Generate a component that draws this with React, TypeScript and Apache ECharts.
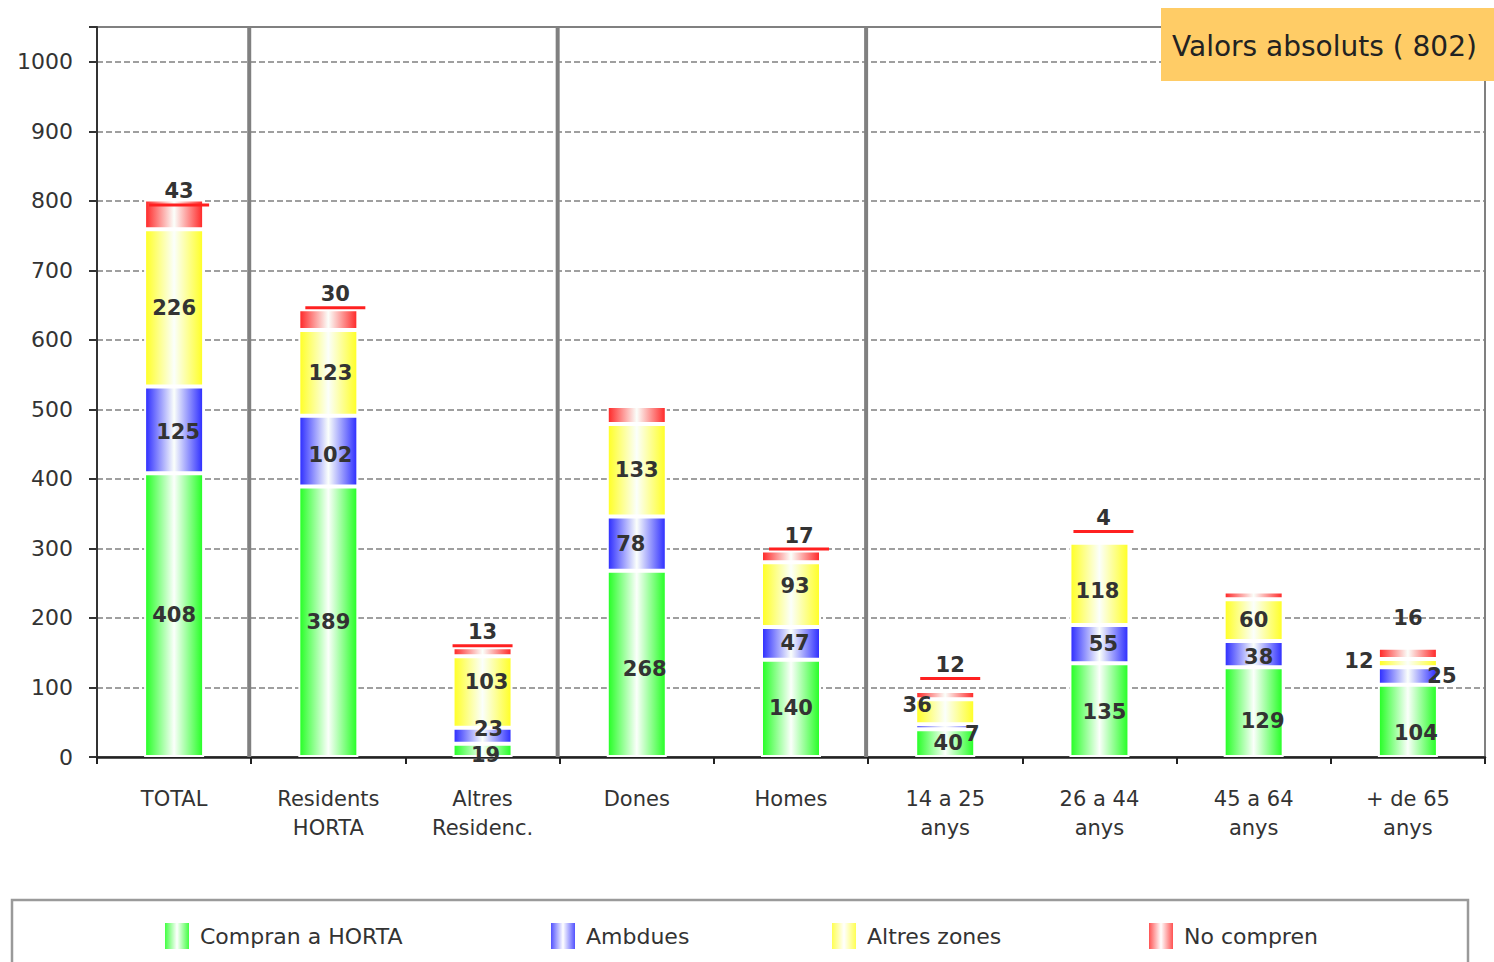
import React, { useEffect, useRef } from "react";
import * as echarts from "echarts";

const categories = [
  "TOTAL",
  "Residents\nHORTA",
  "Altres\nResidenc.",
  "Dones",
  "Homes",
  "14 a 25\nanys",
  "26 a 44\nanys",
  "45 a 64\nanys",
  "+ de 65\nanys",
];
const seriesNames = ["Compran a HORTA", "Ambdues", "Altres zones", "No compren"];
const compranHorta = [408, 389, 19, 268, 140, 40, 135, 129, 104];
const ambdues = [125, 102, 23, 78, 47, 7, 55, 38, 25];
const altresZones = [226, 123, 103, 133, 93, 36, 118, 60, 12];
const noCompren = [43, 30, 13, 26, 17, 12, 4, 11, 16];
// labels not visible in the reference
const hiddenNoComprenLabels = [3, 7];
const noUnderlineLabels = [8];
const totalSample = 802;
const yMin = 0;
const yMax = 1050;
const yInterval = 100;

// label nudges (style only)
const labelOffsets: Record<number, Record<number, [number, number]>> = {
  0: { 2: [3, 5], 3: [8, 5], 5: [3, 0], 6: [5, 2], 7: [9, 9], 8: [8, 12] },
  1: { 0: [4, 2], 1: [2, 4], 2: [6, -7], 3: [-6, 0], 4: [4, 0], 5: [27, 7], 6: [4, 0], 7: [5, 3], 8: [34, 0] },
  2: { 1: [2, 0], 2: [4, -10], 4: [4, -9], 5: [-28, -7], 6: [-2, 7], 8: [-49, -2] },
  3: { 0: [5, 7], 1: [7, 0], 4: [8, 0], 5: [5, -11], 6: [4, -7], 8: [0, -18] },
};

const palette = ["#22ff22", "#2a2aff", "#ffff22", "#ff2424"];
const legendPalette = ["#33ff33", "#4444ff", "#ffff44", "#ff4444"];

function grad(c: string, center: string) {
  return new echarts.graphic.LinearGradient(0, 0, 1, 0, [
    { offset: 0, color: c },
    { offset: 0.5, color: center },
    { offset: 1, color: c },
  ]);
}

export default function App() {
  const ref = useRef<HTMLDivElement>(null);
  useEffect(() => {
    document.body.style.margin = "0";
    if (!ref.current) return;
    const chart = echarts.init(ref.current, undefined, { renderer: "svg" });
    const dataSets = [compranHorta, ambdues, altresZones, noCompren];
    const font = "DejaVu Sans";

    const series = dataSets.map((arr, si) => {
      const isTop = si === 3;
      return {
        name: seriesNames[si],
        type: "bar",
        stack: "s",
        barWidth: 60,
        itemStyle: {
          color: grad(palette[si], "#fbfffb"),
          borderColor: "#ffffff",
          borderWidth: 2,
        },
        data: arr.map((v, ci) => {
          const off = (labelOffsets[si] && labelOffsets[si][ci]) || [0, 0];
          if (isTop) {
            const hidden = hiddenNoComprenLabels.includes(ci);
            const under = !noUnderlineLabels.includes(ci);
            return {
              value: v,
              label: {
                show: !hidden,
                position: "top",
                distance: 0,
                offset: off,
                formatter: under ? "{v|{c}}\n{u| }" : "{v|{c}}",
                rich: {
                  v: {
                    fontFamily: font,
                    fontWeight: "bold",
                    fontSize: 21,
                    color: "#333333",
                    lineHeight: 24,
                    align: "center",
                  },
                  u: {
                    width: 60,
                    height: 3,
                    lineHeight: 3,
                    backgroundColor: "#ff2020",
                    align: "center",
                  },
                },
              },
            };
          }
          return {
            value: v,
            label: {
              show: true,
              position: "inside",
              offset: off,
              fontFamily: font,
              fontWeight: "bold",
              fontSize: 21,
              color: "#333333",
            },
          };
        }),
      };
    });

    const legendLefts = [163, 549, 830, 1147];
    const legends = seriesNames.map((n, i) => ({
      data: [n],
      left: legendLefts[i],
      top: 921,
      padding: 0,
      itemWidth: 26,
      itemHeight: 28,
      itemGap: 11,
      icon: "rect",
      textStyle: { fontFamily: font, fontSize: 22, color: "#333333", padding: [0, 0, 0, 5] },
      itemStyle: { color: grad(legendPalette[i], "#ffffff") },
      selectedMode: false,
    }));

    chart.setOption({
      animation: false,
      backgroundColor: "#ffffff",
      grid: {
        left: 97,
        right: 9,
        top: 27,
        bottom: 205,
        show: true,
        borderColor: "#808080",
        borderWidth: 2,
        backgroundColor: "transparent",
      },
      legend: legends,
      xAxis: {
        type: "category",
        data: categories,
        axisLine: { lineStyle: { color: "#222222", width: 2.5 } },
        axisTick: { show: true, length: 7, lineStyle: { color: "#222222", width: 2 } },
        axisLabel: {
          fontFamily: font,
          fontSize: 21,
          color: "#333333",
          lineHeight: 29,
          margin: 27,
          interval: 0,
        },
      },
      yAxis: {
        type: "value",
        min: yMin,
        max: yMax,
        interval: yInterval,
        axisLine: { show: true, lineStyle: { color: "#333333", width: 2 } },
        axisTick: { show: true, length: 8, lineStyle: { color: "#333333", width: 2 } },
        axisLabel: {
          fontFamily: font,
          fontSize: 22,
          color: "#333333",
          margin: 24,
          formatter: (v: number) => (v % yInterval === 0 ? String(v) : ""),
        },
        splitLine: {
          show: true,
          lineStyle: { color: "#808080", width: 1.5, type: [6, 3] },
        },
      },
      series,
    });

    // separators between the groups, at the category boundaries
    const sepAfter = [0, 2, 4];
    const yTop = chart.convertToPixel({ yAxisIndex: 0 }, yMax) as number;
    const yBot = chart.convertToPixel({ yAxisIndex: 0 }, yMin) as number;
    const seps = sepAfter.map((i) => {
      const a = chart.convertToPixel({ xAxisIndex: 0 }, i) as number;
      const b = chart.convertToPixel({ xAxisIndex: 0 }, i + 1) as number;
      const x = (a + b) / 2 - 2;
      return {
        type: "line",
        shape: { x1: x, y1: yTop, x2: x, y2: yBot },
        style: { stroke: "#808080", lineWidth: 4 },
        z: 1,
      };
    });

    chart.setOption({
      graphic: [
        ...seps,
        {
          type: "rect",
          shape: { x: 1161, y: 8, width: 340, height: 73 },
          style: { fill: "#ffcc66" },
          z: 10,
        },
        {
          type: "text",
          x: 1172,
          y: 46,
          style: {
            text: `Valors absoluts ( ${totalSample})`,
            fontFamily: font,
            fontSize: 28,
            fill: "#222222",
            verticalAlign: "middle",
          },
          z: 11,
        },
        {
          type: "rect",
          shape: { x: 12, y: 900, width: 1456, height: 100 },
          style: { fill: "transparent", stroke: "#9a9a9a", lineWidth: 2.5 },
          z: 0,
        },
      ],
    });

    return () => chart.dispose();
  }, []);
  return <div ref={ref} style={{ width: 1494, height: 962 }} />;
}
